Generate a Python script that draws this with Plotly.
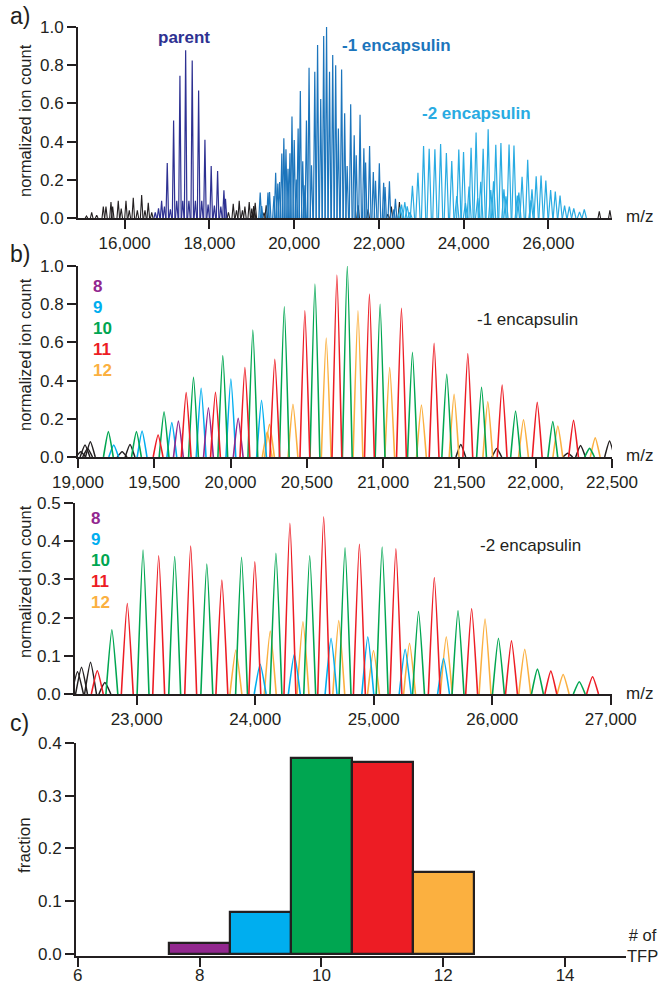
import plotly.graph_objects as go

W, H = 659, 988
INK = "#231F20"

# ---------------- data ----------------
# Panel a: unassigned/baseline peaks of the full spectrum (m/z, normalized ion count)
noise_a_mz = [15100, 15223, 15341, 15497, 15560, 15678, 15718, 15850, 15920, 16032,
              16110, 16204, 16300, 16402, 16480, 16558, 16640,
              18450, 18563, 18640, 18704, 18780, 18838, 18940, 19000, 27200, 27450]
noise_a_int = [0.010, 0.030, 0.015, 0.060, 0.060, 0.084, 0.060, 0.090, 0.050, 0.090,
               0.040, 0.106, 0.040, 0.120, 0.040, 0.080, 0.030,
               0.030, 0.075, 0.040, 0.090, 0.040, 0.060, 0.084, 0.050, 0.035, 0.040]

# Panel a: parent complex peaks
parent_mz = [16723, 16800, 16873, 16940, 17006, 17080, 17156, 17230, 17305, 17372,
             17440, 17517, 17595, 17670, 17746, 17820, 17895, 17970, 18043, 18118,
             18194, 18270, 18343, 18380]
parent_int = [0.030, 0.050, 0.090, 0.060, 0.288, 0.045, 0.510, 0.090, 0.745, 0.090,
              0.878, 0.090, 0.825, 0.090, 0.668, 0.090, 0.410, 0.070, 0.272, 0.065,
              0.246, 0.060, 0.145, 0.100]

# Panel b (top): -1 encapsulin peaks; TFP class 0 = unassigned
enc1_mz = [19018, 19046, 19063, 19081, 19199, 19234, 19289, 19341, 19383, 19420,
           19525, 19564, 19615, 19658, 19709, 19757, 19807, 19855, 19901, 19949,
           20002, 20050, 20094, 20146, 20203, 20240, 20255, 20290, 20352, 20409,
           20487, 20553, 20627, 20697, 20765, 20835, 20910, 20980, 21043, 21120,
           21192, 21251, 21334, 21417, 21465, 21509, 21555, 21645, 21686, 21745,
           21780, 21868, 21920, 22010, 22112, 22145, 22210, 22248, 22294, 22353,
           22390, 22484]
enc1_int = [0.028, 0.063, 0.045, 0.080, 0.133, 0.063, 0.028, 0.066, 0.133, 0.136,
            0.115, 0.237, 0.180, 0.188, 0.337, 0.417, 0.360, 0.258, 0.339, 0.531,
            0.408, 0.202, 0.468, 0.665, 0.297, 0.130, 0.171, 0.511, 0.787, 0.276,
            0.766, 0.906, 0.623, 0.953, 1.000, 0.766, 0.853, 0.800, 0.468, 0.778,
            0.548, 0.272, 0.595, 0.433, 0.328, 0.066, 0.541, 0.365, 0.290, 0.045,
            0.377, 0.241, 0.195, 0.286, 0.185, 0.162, 0.020, 0.192, 0.060, 0.045,
            0.100, 0.084]
enc1_tfp = [0, 0, 0, 0, 10, 9, 0, 0, 10, 9,
            11, 10, 9, 8, 11, 10, 9, 8, 11, 10,
            9, 8, 11, 10, 9, 12, 12, 11, 10, 12,
            11, 10, 12, 11, 10, 12, 11, 10, 12, 11,
            10, 12, 11, 10, 12, 0, 11, 10, 12, 0,
            11, 10, 12, 11, 10, 12, 0, 11, 0, 10,
            12, 0]

# Panel b (bottom): -2 encapsulin peaks; TFP class 0 = unassigned
enc2_mz = [22501, 22535, 22611, 22668, 22732, 22791, 22921, 23054, 23186, 23321,
           23456, 23592, 23719, 23837, 23885, 23997, 24042, 24127, 24175, 24293,
           24330, 24403, 24460, 24578, 24640, 24705, 24758, 24879, 24950, 24998,
           25071, 25187, 25265, 25302, 25378, 25511, 25589, 25612, 25711, 25826,
           25939, 26052, 26162, 26274, 26381, 26494, 26598, 26734, 26846]
enc2_int = [0.058, 0.070, 0.083, 0.061, 0.030, 0.168, 0.237, 0.377, 0.362, 0.360,
            0.387, 0.340, 0.298, 0.115, 0.358, 0.346, 0.078, 0.165, 0.368, 0.447,
            0.104, 0.189, 0.362, 0.464, 0.146, 0.192, 0.383, 0.392, 0.150, 0.114,
            0.385, 0.380, 0.117, 0.133, 0.216, 0.305, 0.093, 0.150, 0.218, 0.223,
            0.196, 0.146, 0.139, 0.117, 0.065, 0.060, 0.051, 0.032, 0.045]
enc2_tfp = [0, 0, 0, 11, 0, 10, 11, 10, 11, 10,
            11, 10, 11, 12, 10, 11, 9, 12, 10, 11,
            9, 12, 10, 11, 9, 12, 10, 11, 9, 12,
            10, 11, 9, 12, 10, 11, 9, 12, 10, 11,
            12, 10, 11, 12, 10, 11, 12, 10, 11]

# Panel c: distribution of TFP copies
tfp_classes = [8, 9, 10, 11, 12]
tfp_fraction = [0.021, 0.079, 0.372, 0.364, 0.155]

# Tick labels
a_tickvals = [16000, 18000, 20000, 22000, 24000, 26000]
a_ticktext = ["16,000", "18,000", "20,000", "22,000", "24,000", "26,000"]
b1_tickvals = [19000, 19500, 20000, 20500, 21000, 21500, 22000, 22500]
b1_ticktext = ["19,000", "19,500", "20,000", "20,500", "21,000", "21,500", "22,000,", "22,500"]
b2_tickvals = [23000, 24000, 25000, 26000, 27000]
b2_ticktext = ["23,000", "24,000", "25,000", "26,000", "27,000"]
c_tickvals = [6, 8, 10, 12, 14]
c_ticktext = ["6", "8", "10", "12", "14"]

# ---------------- style ----------------
FONT = "Liberation Sans, Arial, Helvetica, sans-serif"
C_NOISE = INK
C_PARENT = "#2E3192"
C_ENC1 = "#1C75BC"
C_ENC2 = "#29ABE2"
TFP_COLORS = {8: "#92278F", 9: "#00AEEF", 10: "#00A651", 11: "#ED1C24", 12: "#FBB040"}
HW1, HW2, HWA = 32, 50, 30  # peak half-widths (m/z)


def px(x):
    return x / W


def py(y):
    return 1 - y / H


fig = go.Figure()


def add_peaks(mz, inten, color, hw, width, xa, ya, smooth=None):
    xs, ys = [], []
    for c, h in zip(mz, inten):
        xs += [c - hw, c, c + hw, None]
        ys += [0, h, 0, None]
    line = dict(color=color, width=width)
    if smooth:
        line.update(shape="spline", smoothing=smooth)
    fig.add_trace(go.Scatter(x=xs, y=ys, mode="lines", line=line,
                             xaxis=xa, yaxis=ya, hoverinfo="skip", showlegend=False))


def select(mz, inten, cls, keep):
    pairs = [(m, i) for m, i, c in zip(mz, inten, cls) if keep(c)]
    return [p[0] for p in pairs], [p[1] for p in pairs]


# Panel a
add_peaks(noise_a_mz, noise_a_int, C_NOISE, HWA, 1.1, "x", "y")
m, i = select(enc1_mz, enc1_int, enc1_tfp, lambda c: c == 0)
add_peaks(m, i, C_NOISE, HW1, 1.1, "x", "y")
m, i = select(enc2_mz, enc2_int, enc2_tfp, lambda c: c == 0)
add_peaks(m, i, C_ENC2, HW2, 1.1, "x", "y")
add_peaks(parent_mz, parent_int, C_PARENT, HWA, 1.2, "x", "y")
m, i = select(enc1_mz, enc1_int, enc1_tfp, lambda c: c != 0)
add_peaks(m, i, C_ENC1, HW1, 1.2, "x", "y")
m, i = select(enc2_mz, enc2_int, enc2_tfp, lambda c: c != 0)
add_peaks(m, i, C_ENC2, HW2, 1.2, "x", "y")

# Panel b
for (mz, inten, cls, hw, xa, ya) in [(enc1_mz, enc1_int, enc1_tfp, HW1, "x2", "y2"),
                                     (enc2_mz, enc2_int, enc2_tfp, HW2, "x3", "y3")]:
    m, i = select(mz, inten, cls, lambda c: c == 0)
    add_peaks(m, i, C_NOISE, hw, 1.5, xa, ya, smooth=0.5)
    for k in [12, 9, 8, 10, 11]:
        m, i = select(mz, inten, cls, lambda c, k=k: c == k)
        add_peaks(m, i, TFP_COLORS[k], hw, 1.6, xa, ya, smooth=0.5)

# Panel c
fig.add_trace(go.Bar(x=tfp_classes, y=tfp_fraction, width=1,
                     marker=dict(color=[TFP_COLORS[k] for k in tfp_classes],
                                 line=dict(color=INK, width=2.2)),
                     xaxis="x4", yaxis="y4", hoverinfo="skip", showlegend=False))

common = dict(showline=True, linewidth=2, linecolor=INK, ticks="outside", ticklen=9,
              tickwidth=2, tickcolor=INK, showgrid=False, zeroline=False, automargin=False,
              tickfont=dict(size=17, color=INK, family=FONT), fixedrange=True)


def yticks(top, step):
    vals = []
    v = 0.0
    while v <= top + 1e-9:
        vals.append(round(v, 2))
        v += step
    return dict(tickvals=vals, ticktext=["%.1f" % t for t in vals])


fig.update_layout(
    width=W, height=H, margin=dict(l=0, r=0, t=0, b=0, autoexpand=False),
    paper_bgcolor="white", plot_bgcolor="white",
    font=dict(family=FONT, color=INK, size=17),
    xaxis=dict(domain=[px(78), px(612)], anchor="y", range=[14900, 27500],
               tickvals=a_tickvals, ticktext=a_ticktext, **common),
    yaxis=dict(domain=[py(218), py(27)], anchor="x", range=[0, 1.0], **yticks(1.0, 0.2), **common),
    xaxis2=dict(domain=[px(78), px(612)], anchor="y2", range=[19000, 22500],
                tickvals=b1_tickvals, ticktext=b1_ticktext, **common),
    yaxis2=dict(domain=[py(457), py(266)], anchor="x2", range=[0, 1.0], **yticks(1.0, 0.2), **common),
    xaxis3=dict(domain=[px(75), px(612)], anchor="y3", range=[22480, 27010],
                tickvals=b2_tickvals, ticktext=b2_ticktext, **common),
    yaxis3=dict(domain=[py(694), py(503)], anchor="x3", range=[0, 0.5], **yticks(0.5, 0.1), **common),
    xaxis4=dict(domain=[px(76), px(626)], anchor="y4", range=[5.97, 15],
                tickvals=c_tickvals, ticktext=c_ticktext, ticklabelstandoff=-6, **common),
    yaxis4=dict(domain=[py(956), py(743)], anchor="x4", range=[-0.004, 0.4], **yticks(0.4, 0.1), **common),
    bargap=0,
)

ann = []


def text(x, y, s, size=17, color=INK, bold=False, angle=0, xanchor="center"):
    ann.append(dict(xref="paper", yref="paper", x=px(x), y=py(y), text=("<b>%s</b>" % s) if bold else s,
                    showarrow=False, xanchor=xanchor, yanchor="middle", textangle=angle,
                    font=dict(size=size, color=color, family=FONT)))


# panel letters
text(20, 16, "a)", size=23)
text(20, 254, "b)", size=23)
text(19, 723, "c)", size=23)
# axis titles
text(25, 121, "normalized ion count", size=16.5, angle=-90)
text(25, 355, "normalized ion count", size=16.5, angle=-90)
text(25, 582, "normalized ion count", size=16.5, angle=-90)
text(24, 845, "fraction", size=17, angle=-90)
# m/z labels
text(639, 216, "m/z")
text(639, 455, "m/z")
text(639, 693, "m/z")
text(625, 945, "# of<br>TFP", size=16.5, xanchor="left")
# panel a region labels
text(184, 37, "parent", color=C_PARENT, bold=True)
text(396, 45, "-1 encapsulin", color=C_ENC1, bold=True)
text(476, 113, "-2 encapsulin", color=C_ENC2, bold=True)
# panel b labels
text(527, 319, "-1 encapsulin")
text(530, 545, "-2 encapsulin")
for j, k in enumerate(tfp_classes):
    text(91, 287 + j * 21, str(k), color=TFP_COLORS[k], bold=True, xanchor="left")
    text(89, 518 + j * 21, str(k), color=TFP_COLORS[k], bold=True, xanchor="left")

fig.update_layout(annotations=ann)
# remove the default page margin so the figure fills the window exactly
fig.write_html("out.html", config={"displayModeBar": False},
               post_script="document.body.style.margin='0';")
